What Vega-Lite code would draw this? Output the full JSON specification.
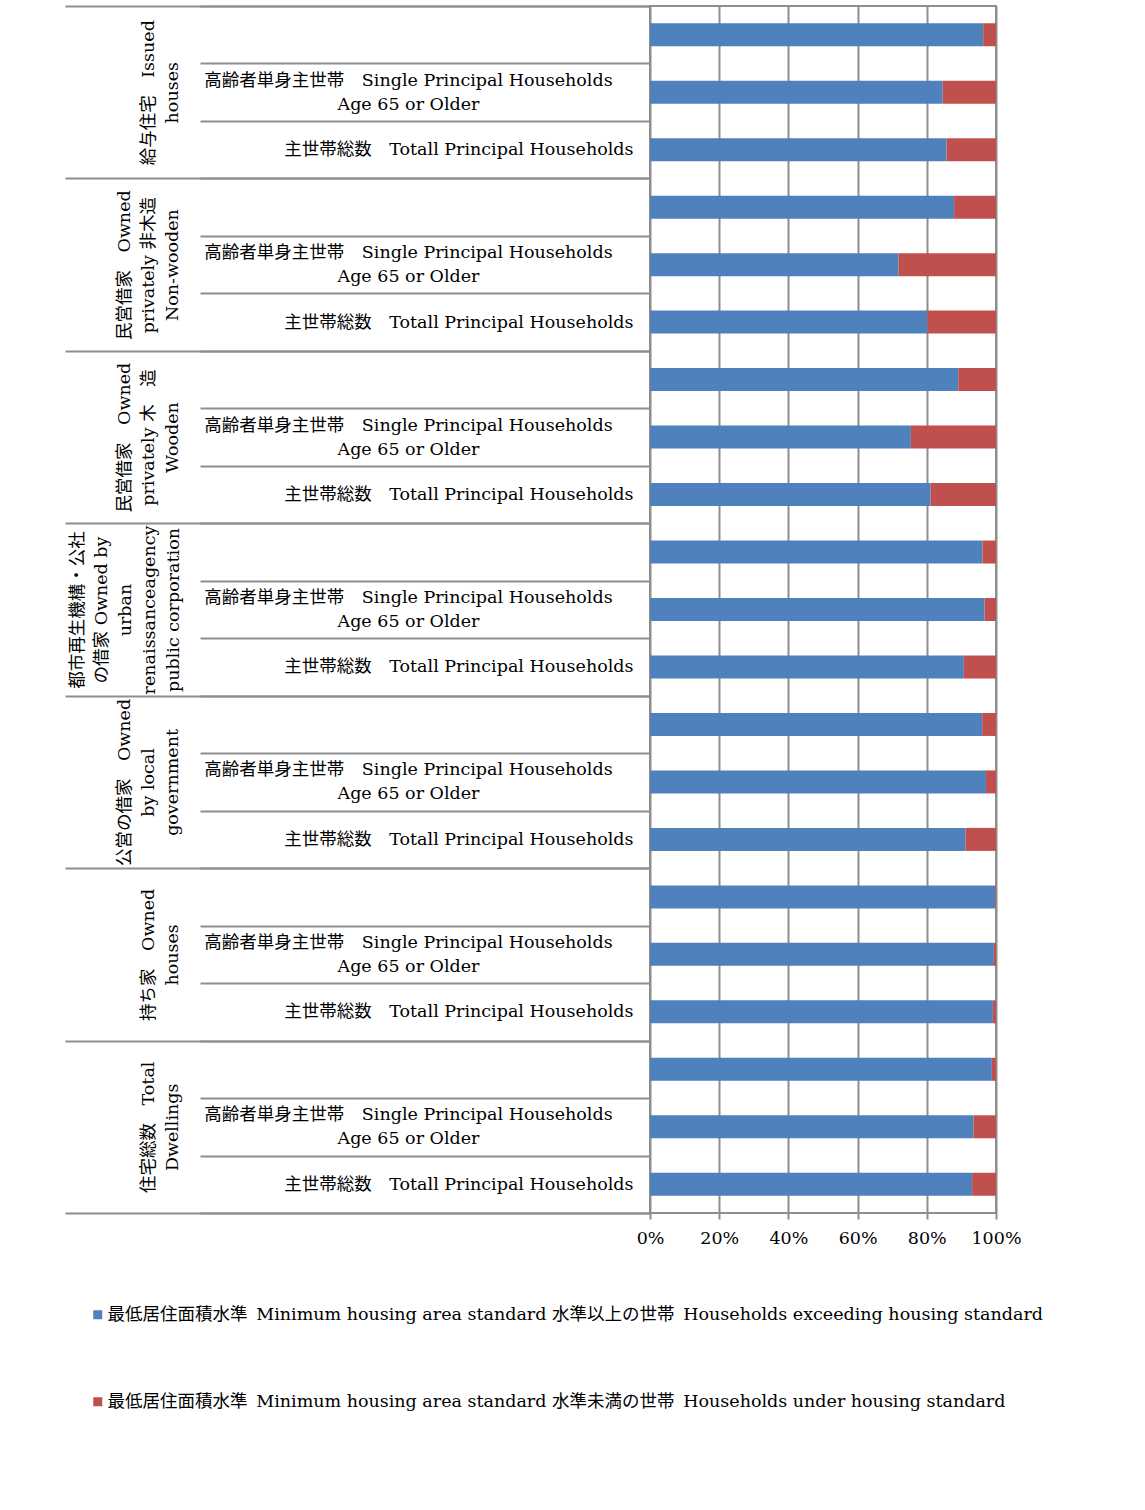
{
  "$schema": "https://vega.github.io/schema/vega-lite/v6.json",
  "autosize": {"type": "none"},
  "padding": {"left": 650, "top": 6, "right": 149, "bottom": 297},
  "width": 346,
  "height": 1207,
  "config": {
    "font": "DejaVu Serif, Noto Sans CJK JP",
    "view": {"stroke": "#8e8e8e", "strokeWidth": 2},
    "axis": {
      "labelFont": "DejaVu Serif, Noto Sans CJK JP",
      "labelFontSize": 17.5,
      "labelColor": "#000000",
      "labelLimit": 0
    },
    "legend": {
      "labelFont": "DejaVu Serif, Noto Sans CJK JP",
      "labelFontSize": 17.5,
      "labelColor": "#000000",
      "labelLimit": 0
    }
  },
  "layer": [
    {
      "data": {
        "values": [
          {"group": "issued", "row": "issued|other", "exceeding": 96.3, "under": 3.7},
          {"group": "issued", "row": "issued|elderly", "exceeding": 84.6, "under": 15.4},
          {"group": "issued", "row": "issued|all", "exceeding": 85.7, "under": 14.3},
          {"group": "private_nonwooden", "row": "private_nonwooden|other", "exceeding": 87.9, "under": 12.1},
          {"group": "private_nonwooden", "row": "private_nonwooden|elderly", "exceeding": 71.8, "under": 28.2},
          {"group": "private_nonwooden", "row": "private_nonwooden|all", "exceeding": 80.2, "under": 19.8},
          {"group": "private_wooden", "row": "private_wooden|other", "exceeding": 89.1, "under": 10.9},
          {"group": "private_wooden", "row": "private_wooden|elderly", "exceeding": 75.4, "under": 24.6},
          {"group": "private_wooden", "row": "private_wooden|all", "exceeding": 81.1, "under": 18.9},
          {"group": "ur", "row": "ur|other", "exceeding": 96.1, "under": 3.9},
          {"group": "ur", "row": "ur|elderly", "exceeding": 96.7, "under": 3.3},
          {"group": "ur", "row": "ur|all", "exceeding": 90.7, "under": 9.3},
          {"group": "local_gov", "row": "local_gov|other", "exceeding": 96.0, "under": 4.0},
          {"group": "local_gov", "row": "local_gov|elderly", "exceeding": 97.1, "under": 2.9},
          {"group": "local_gov", "row": "local_gov|all", "exceeding": 91.2, "under": 8.8},
          {"group": "owned", "row": "owned|other", "exceeding": 99.8, "under": 0.2},
          {"group": "owned", "row": "owned|elderly", "exceeding": 99.4, "under": 0.6},
          {"group": "owned", "row": "owned|all", "exceeding": 99.1, "under": 0.9},
          {"group": "all_dwellings", "row": "all_dwellings|other", "exceeding": 98.8, "under": 1.2},
          {"group": "all_dwellings", "row": "all_dwellings|elderly", "exceeding": 93.5, "under": 6.5},
          {"group": "all_dwellings", "row": "all_dwellings|all", "exceeding": 93.1, "under": 6.9}
        ]
      },
      "transform": [{"fold": ["exceeding", "under"], "as": ["standard", "share"]}],
      "mark": {"type": "bar", "height": {"band": 0.4}},
      "encoding": {
        "y": {
          "field": "row",
          "type": "nominal",
          "sort": null,
          "scale": {
            "domain": [
              "issued|other", "issued|elderly", "issued|all",
              "private_nonwooden|other", "private_nonwooden|elderly", "private_nonwooden|all",
              "private_wooden|other", "private_wooden|elderly", "private_wooden|all",
              "ur|other", "ur|elderly", "ur|all",
              "local_gov|other", "local_gov|elderly", "local_gov|all",
              "owned|other", "owned|elderly", "owned|all",
              "all_dwellings|other", "all_dwellings|elderly", "all_dwellings|all"
            ],
            "paddingInner": 0,
            "paddingOuter": 0
          },
          "axis": {
            "orient": "left",
            "title": null,
            "domain": false,
            "grid": false,
            "ticks": true,
            "tickBand": "extent",
            "tickSize": 450,
            "tickColor": "#8e8e8e",
            "tickWidth": 2,
            "labelExpr": "test(/elderly$/, datum.value) ? ['高齢者単身主世帯　Single Principal Households', 'Age 65 or Older'] : test(/all$/, datum.value) ? '主世帯総数　Totall Principal Households' : ''",
            "labelAlign": {"condition": {"test": "test(/elderly$/, datum.value)", "value": "center"}, "value": "right"},
            "labelPadding": {"condition": {"test": "test(/elderly$/, datum.value)", "value": -208}, "value": -433},
            "labelOffset": {"condition": {"test": "test(/elderly$/, datum.value)", "value": -12}, "value": 0},
            "labelBaseline": "middle",
            "labelLineHeight": 24
          }
        },
        "x": {
          "field": "share",
          "type": "quantitative",
          "stack": "normalize",
          "scale": {"domain": [0, 1]},
          "axis": {
            "orient": "bottom",
            "title": null,
            "values": [0, 0.2, 0.4, 0.6, 0.8, 1],
            "format": "%",
            "grid": true,
            "gridColor": "#8e8e8e",
            "gridWidth": 2,
            "domain": false,
            "ticks": true,
            "tickSize": 6,
            "tickColor": "#8e8e8e",
            "tickWidth": 2,
            "labelPadding": 10,
            "labelFlush": false
          }
        },
        "color": {
          "field": "standard",
          "type": "nominal",
          "scale": {"domain": ["exceeding", "under"], "range": ["#4f81bd", "#c0504d"]},
          "legend": {
            "title": null,
            "orient": "none",
            "direction": "vertical",
            "legendX": -561,
            "legendY": 1300,
            "symbolType": "square",
            "symbolSize": 81,
            "symbolStrokeWidth": 0,
            "symbolOpacity": 1,
            "rowPadding": 68,
            "labelOffset": 1,
            "labelExpr": "datum.value == 'exceeding' ? '最低居住面積水準\u2002Minimum housing area standard 水準以上の世帯\u2002Households exceeding housing standard' : '最低居住面積水準\u2002Minimum housing area standard 水準未満の世帯\u2002Households under housing standard'"
          }
        },
        "order": {"field": "standard"}
      }
    },
    {
      "data": {
        "values": [
          {"group": "issued"},
          {"group": "private_nonwooden"},
          {"group": "private_wooden"},
          {"group": "ur"},
          {"group": "local_gov"},
          {"group": "owned"},
          {"group": "all_dwellings"}
        ]
      },
      "mark": {"type": "point", "opacity": 0},
      "encoding": {
        "y": {
          "field": "group",
          "type": "nominal",
          "sort": null,
          "scale": {
            "domain": ["issued", "private_nonwooden", "private_wooden", "ur", "local_gov", "owned", "all_dwellings"],
            "paddingInner": 0,
            "paddingOuter": 0
          },
          "axis": {
            "orient": "left",
            "title": null,
            "domain": false,
            "grid": false,
            "ticks": true,
            "tickBand": "extent",
            "tickSize": 585,
            "tickColor": "#8e8e8e",
            "tickWidth": 2,
            "labelExpr": "({'issued': ['給与住宅　Issued', 'houses'], 'private_nonwooden': ['民営借家　Owned', 'privately 非木造', 'Non-wooden'], 'private_wooden': ['民営借家　Owned', 'privately 木　造', 'Wooden'], 'ur': ['都市再生機構・公社', 'の借家 Owned by', 'urban', 'renaissanceagency', 'public corporation'], 'local_gov': ['公営の借家　Owned', 'by local', 'government'], 'owned': ['持ち家　Owned', 'houses'], 'all_dwellings': ['住宅総数　Total', 'Dwellings']})[datum.value]",
            "labelAngle": 270,
            "labelAlign": "center",
            "labelBaseline": "bottom",
            "labelLineHeight": 24,
            "labelPadding": {
              "condition": [
                {"test": "datum.value == 'ur'", "value": -21},
                {"test": "datum.value == 'private_nonwooden' || datum.value == 'private_wooden' || datum.value == 'local_gov'", "value": -68}
              ],
              "value": -92
            }
          }
        }
      }
    }
  ],
  "resolve": {"scale": {"y": "independent"}, "axis": {"y": "independent"}}
}
